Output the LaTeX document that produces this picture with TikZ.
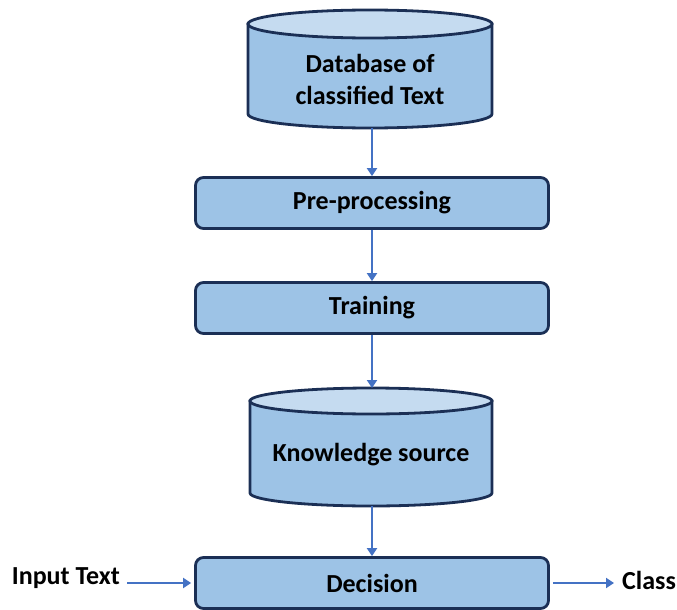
\documentclass[tikz,border=0pt]{standalone}
\usepackage{fontspec}
\setmainfont{Carlito}
\usetikzlibrary{arrows.meta}
\definecolor{boxfill}{HTML}{9DC3E6}
\definecolor{topfill}{HTML}{C5DBF0}
\definecolor{boxline}{HTML}{1B2F55}
\definecolor{arrowcol}{HTML}{4472C4}
\tikzset{
  lbl/.style={font=\fontsize{26}{32}\selectfont\bfseries, align=center, inner sep=0pt},
  stepbox/.style={draw=boxline, fill=boxfill, line width=2.8pt, rounded corners=8pt,
    minimum width=353pt, minimum height=51pt, font=\fontsize{26}{32}\selectfont\bfseries, inner sep=0pt},
  ghost/.style={inner sep=0pt, outer sep=0pt},
  flow/.style={draw=arrowcol, line width=2.4pt, -{Triangle[length=8pt,width=10pt]}},
  cylbody/.style={draw=boxline, fill=boxfill, line width=2.8pt},
  cyltop/.style={draw=boxline, fill=topfill, line width=2.8pt},
}
% cylinder: #1 left x, #2 right x, #3 top-ellipse centre y, #4 bottom side y, #5 ry
\newcommand{\drumshape}[5]{%
  \path[cylbody] (#1,#3) -- (#1,#4)
    arc[start angle=180, end angle=0, x radius={(#2-#1)/2}, y radius=#5]
    -- (#2,#3) -- cycle;
  \path[cyltop] ({(#1+#2)/2},#3) ellipse[x radius={(#2-#1)/2}, y radius=#5];
}
\begin{document}
\begin{tikzpicture}[x=1pt,y=-1pt]
\useasboundingbox (0,0) rectangle (677,610);

% databases
\drumshape{248}{492}{24}{114}{14}
\node[ghost, minimum width=244pt, minimum height=118pt] (db) at (370,69) {};
\node[lbl] at (370,79) {Database of\\classified Text};

\drumshape{250}{492}{401}{493}{13}
\node[ghost, minimum width=242pt, minimum height=118pt] (ks) at (371,447) {};
\node[lbl] at (371,455) {Knowledge source};

% processing steps
\node[stepbox] (pre) at (372,203) {Pre-processing};
\node[stepbox] (train) at (372,308) {Training};
\node[stepbox] (dec) at (372,583) {Decision};

% side labels
\node[lbl, anchor=east] (inp) at (120,578) {Input Text};
\node[lbl, anchor=west] (cls) at (622,580) {Class};

% connectors
\draw[flow] (db.south -| pre.north) -- (pre.north);
\draw[flow] (pre.south) -- (train.north);
\draw[flow] (train.south) -- (ks.north -| train.south);
\draw[flow] (ks.south -| dec.north) -- (dec.north);
\draw[flow] ([xshift=7pt]inp.east |- dec.west) -- ([xshift=-3pt]dec.west);
\draw[flow] ([xshift=3pt]dec.east) -- ([xshift=-8pt]cls.west |- dec.east);
\end{tikzpicture}
\end{document}
